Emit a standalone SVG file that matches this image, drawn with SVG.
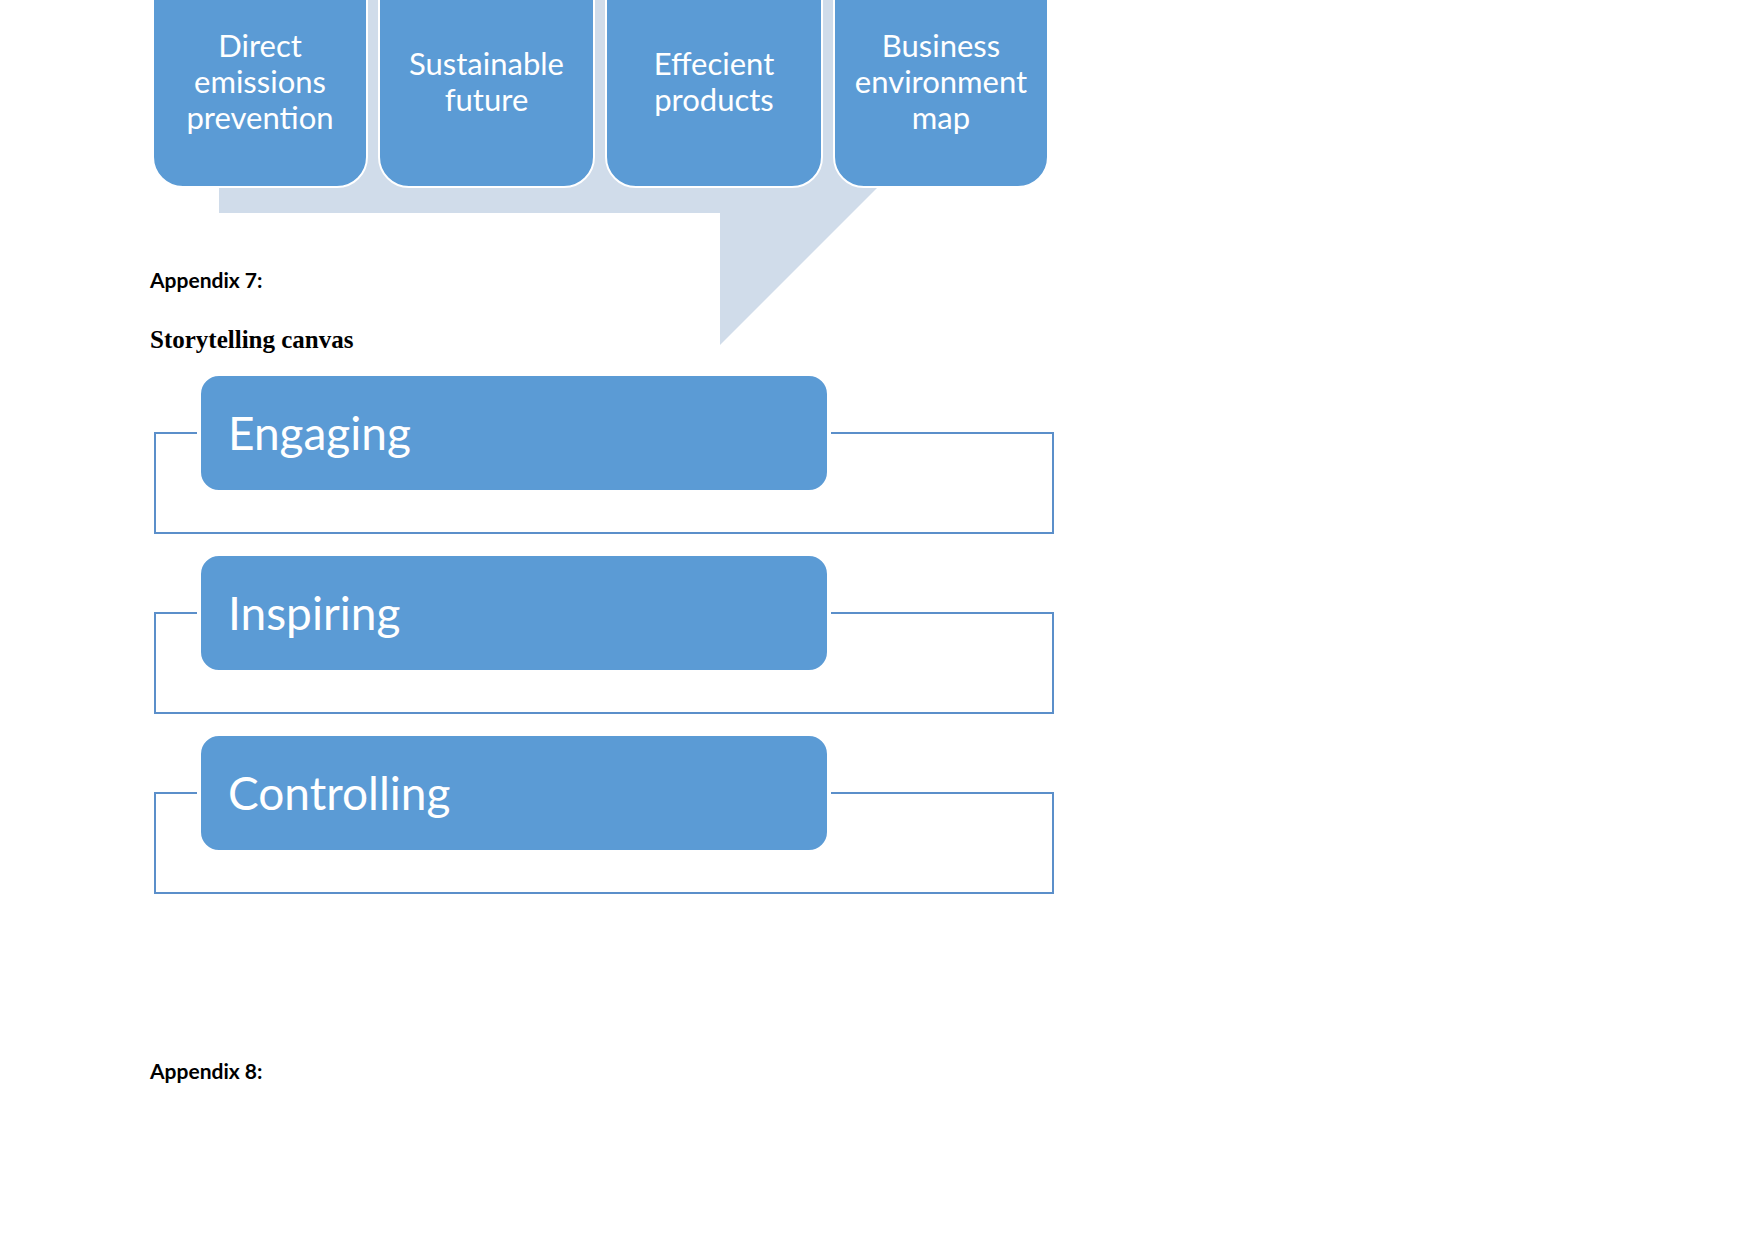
<svg xmlns="http://www.w3.org/2000/svg" width="1754" height="1241" viewBox="0 0 1754 1241">
<style>
.top{fill:#5b9bd5;stroke:#ffffff;stroke-width:2}
.bar{fill:#5b9bd5;stroke:#ffffff;stroke-width:4}
.frame{fill:none;stroke:#5b8fca;stroke-width:2}
.tt{font-family:Lato,"Liberation Sans",sans-serif;font-size:31px;fill:#ffffff;text-anchor:middle}
.bt{font-family:Lato,"Liberation Sans",sans-serif;font-size:46px;fill:#ffffff}
.ap{font-family:Lato,"Liberation Sans",sans-serif;font-size:21px;font-weight:bold;fill:#000000}
.st{font-family:"Liberation Serif",serif;font-size:25px;font-weight:bold;fill:#000000}
</style>
<rect width="1754" height="1241" fill="#ffffff"/>
<g id="callout">
<polygon points="219,-10 960,-10 960,105 720,345 720,213 219,213" fill="#d0dcea"/>
</g>
<g id="n1"><rect class="top" x="153" y="-40" width="214" height="227" rx="30"/>
<text class="tt" x="260" y="57">Direct</text><text class="tt" x="260" y="93">emissions</text><text class="tt" x="260" y="129">prevention</text></g>
<g id="n2"><rect class="top" x="379" y="-40" width="215" height="227" rx="30"/>
<text class="tt" x="486.5" y="75">Sustainable</text><text class="tt" x="486.5" y="111">future</text></g>
<g id="n3"><rect class="top" x="606" y="-40" width="216" height="227" rx="30"/>
<text class="tt" x="714" y="75">Effecient</text><text class="tt" x="714" y="111">products</text></g>
<g id="n4"><rect class="top" x="834" y="-40" width="214" height="227" rx="30"/>
<text class="tt" x="941" y="57">Business</text><text class="tt" x="941" y="93">environment</text><text class="tt" x="941" y="129">map</text></g>
<text class="ap" x="150" y="288">Appendix 7:</text>
<text class="st" x="150" y="348">Storytelling canvas</text>
<g id="connectors">
<rect class="frame" x="155" y="433" width="898" height="100"/>
<rect class="frame" x="155" y="613" width="898" height="100"/>
<rect class="frame" x="155" y="793" width="898" height="100"/>
</g>
<g id="engaging"><rect class="bar" x="199" y="374" width="630" height="118" rx="20"/>
<text class="bt" x="228" y="450">Engaging</text></g>
<g id="inspiring"><rect class="bar" x="199" y="554" width="630" height="118" rx="20"/>
<text class="bt" x="228" y="630">Inspiring</text></g>
<g id="controlling"><rect class="bar" x="199" y="734" width="630" height="118" rx="20"/>
<text class="bt" x="228" y="810">Controlling</text></g>
<text class="ap" x="150" y="1079">Appendix 8:</text>
</svg>
